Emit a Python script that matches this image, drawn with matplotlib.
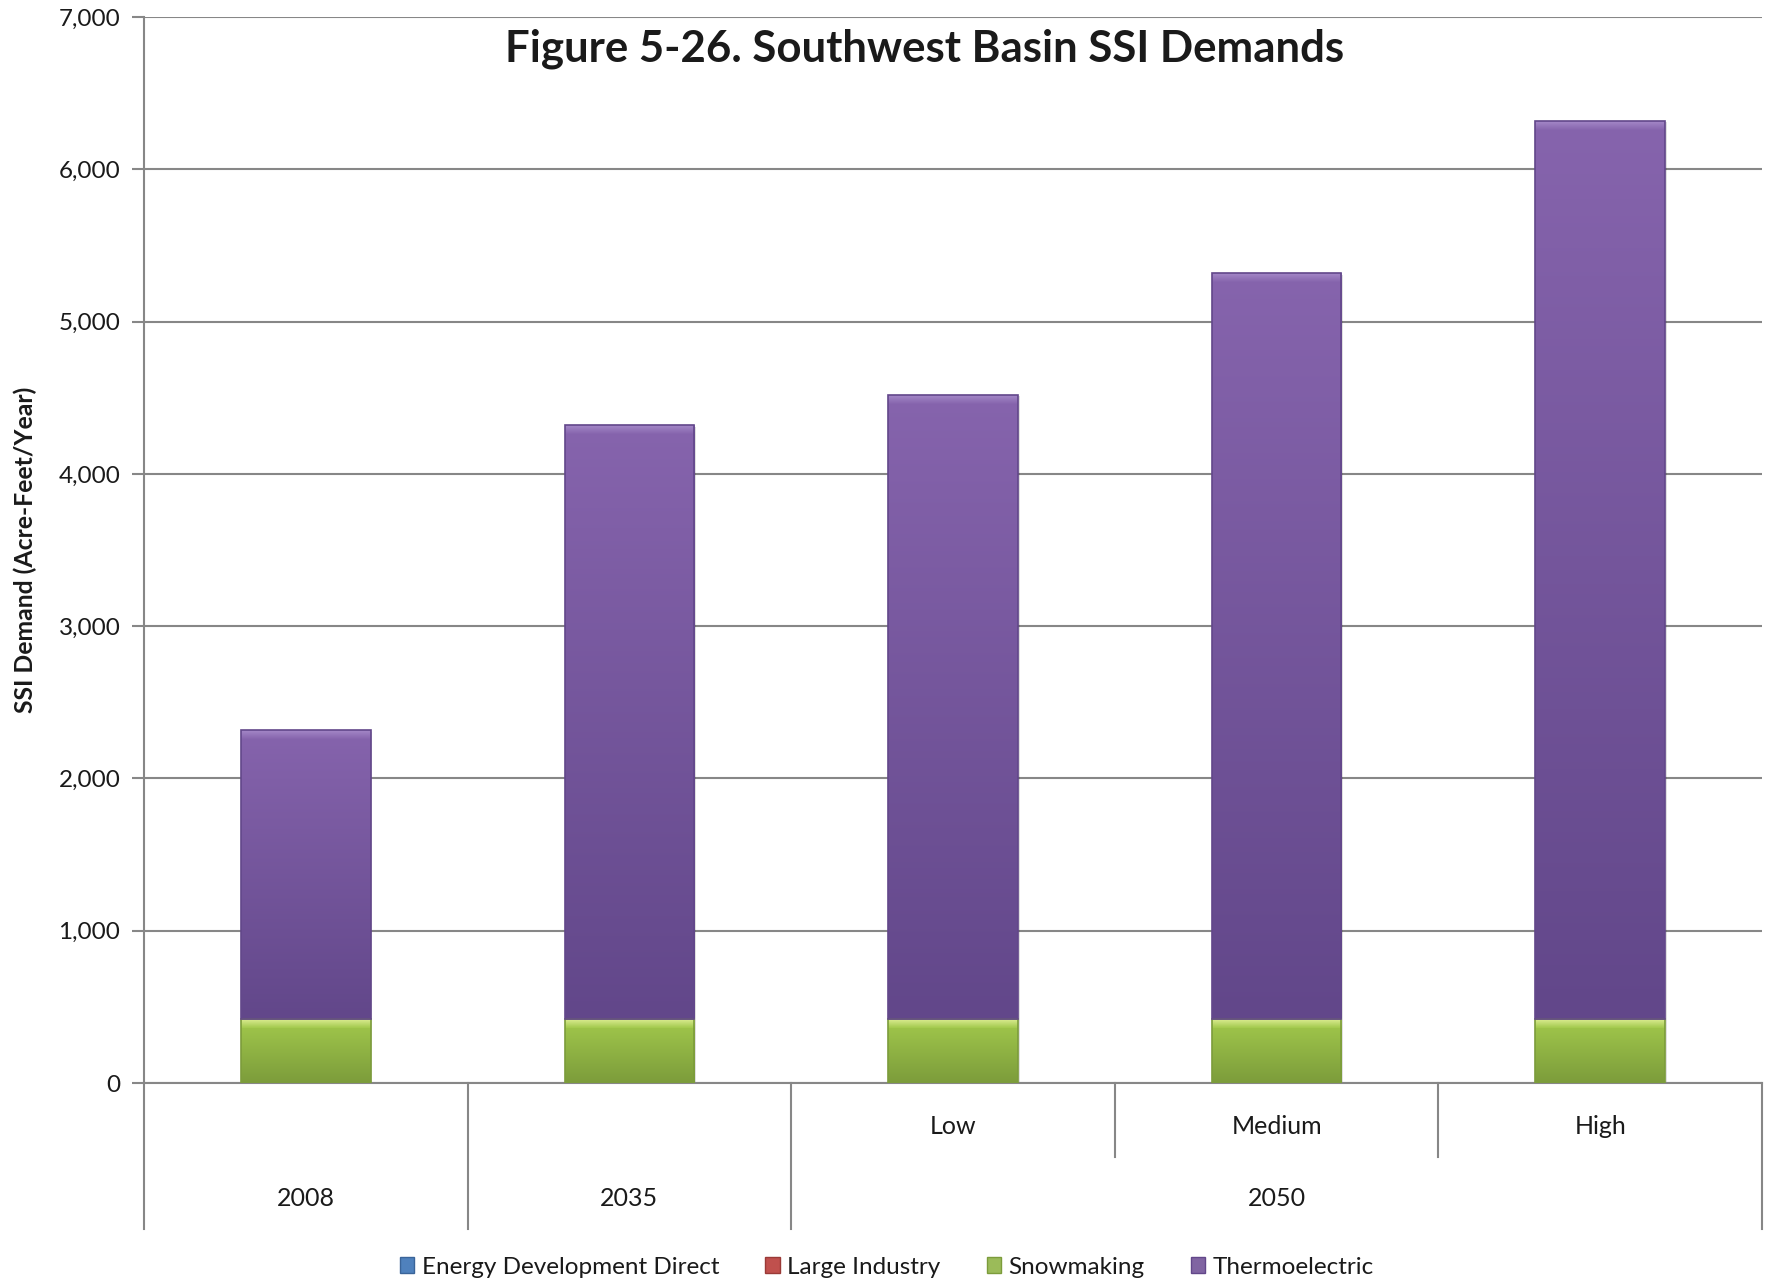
import numpy as np
import matplotlib
matplotlib.use('Agg')
import matplotlib.pyplot as plt
import matplotlib.transforms as mtransforms
from matplotlib.colors import LinearSegmentedColormap
from matplotlib.patches import Patch

plt.rcParams['font.family'] = ['Lato', 'DejaVu Sans']

# data (acre-feet/year)
years = ['2008', '2035', '2050', '2050', '2050']
scenarios = ['', '', 'Low', 'Medium', 'High']
energy_dev = [0, 0, 0, 0, 0]
large_industry = [0, 0, 0, 0, 0]
snowmaking = [420, 420, 420, 420, 420]
thermoelectric = [1900, 3900, 4100, 4900, 5900]

series_names = ['Energy Development Direct', 'Large Industry', 'Snowmaking', 'Thermoelectric']
series_data = [energy_dev, large_industry, snowmaking, thermoelectric]
# (legend colour, gradient top, gradient bottom, bevel highlight)
series_cols = [('#4F81BD', '#5B8FD0', '#3A6499', '#9CC0EA'),
               ('#C0504D', '#D05D5A', '#9A3A37', '#EBA09E'),
               ('#9BBB59', '#A2C94C', '#7C9C3B', '#E2F09A'),
               ('#8064A2', '#8664AD', '#62478A', '#A88DCB')]

fig = plt.figure(figsize=(17.88, 12.86), dpi=100)
ax = fig.add_axes([144/1788, 1 - 1083/1286, (1762-144)/1788, (1083-17)/1286])

x = np.arange(len(years))
grid_col = '#878787'
bevel = 60
txt_col = '#1a1a1a'

bottom = np.zeros(len(x))
for name, vals, cols in zip(series_names, series_data, series_cols):
    vals = np.array(vals, dtype=float)
    bars = ax.bar(x, vals, 0.4, bottom=bottom, color=cols[2], edgecolor='none', zorder=3)
    for rect, v in zip(bars, vals):
        if v <= 0:
            continue
        bx, by = rect.get_xy()
        bw, bh = rect.get_width(), rect.get_height()
        # soft shadow
        ax.add_patch(plt.Rectangle((bx + 0.006, by - 12), bw, bh, color='#000000',
                                   alpha=0.12, zorder=2, lw=0))
        cmap = LinearSegmentedColormap.from_list('g', [cols[2], cols[1]])
        grad = np.linspace(0, 1, 256).reshape(-1, 1)
        im = ax.imshow(grad, extent=[bx, bx + bw, by, by + bh], origin='lower',
                       cmap=cmap, aspect='auto', zorder=3, interpolation='bilinear')
        im.set_clip_path(rect)
        # top bevel
        cmap2 = LinearSegmentedColormap.from_list('b', [cols[1], cols[3]])
        im2 = ax.imshow(grad, extent=[bx, bx + bw, by + bh - bevel, by + bh], origin='lower',
                        cmap=cmap2, aspect='auto', zorder=3.1, interpolation='bilinear')
        im2.set_clip_path(rect)
        ax.add_patch(plt.Rectangle((bx, by), bw, bh, fill=False, edgecolor=cols[2],
                                   lw=1.2, zorder=3.2))
    bottom += vals

ax.set_xlim(-0.5, len(x) - 0.5)
ax.set_ylim(0, 7000)
ax.set_yticks(np.arange(0, 7001, 1000))
ax.set_yticklabels([f'{v:,}' for v in range(0, 7001, 1000)], fontsize=17.5, color=txt_col)
ax.yaxis.grid(True, color=grid_col, lw=1.5, zorder=0)
ax.set_axisbelow(True)
ax.tick_params(axis='y', length=9, width=1.5, color=grid_col, pad=8)
ax.tick_params(axis='x', length=0, labelbottom=False)
for s in ['top', 'right']:
    ax.spines[s].set_visible(False)
for s in ['left', 'bottom']:
    ax.spines[s].set_color(grid_col)
    ax.spines[s].set_linewidth(1.5)

ax.set_ylabel('SSI Demand (Acre-Feet/Year)', fontsize=17.8, fontweight='bold', color=txt_col)
ax.yaxis.set_label_coords(-0.066, 0.5)

# two-level category axis
trans = mtransforms.blended_transform_factory(ax.transData, ax.transAxes)
long_y = -(1229 - 1083) / 1066
short_y = -(1157 - 1083) / 1066
row1_y = -(1127 - 1083) / 1066
row2_y = -(1199 - 1083) / 1066
for i, xb in enumerate(np.arange(-0.5, len(x))):
    is_short = 0 < i < len(x) and years[i - 1] == years[i]
    ax.plot([xb, xb], [0, short_y if is_short else long_y], transform=trans,
            color=grid_col, lw=1.5, clip_on=False)
for i, sc in enumerate(scenarios):
    if sc:
        ax.text(x[i], row1_y, sc, transform=trans, ha='center', va='center', fontsize=18,
                color=txt_col)
groups = []
for i, yr in enumerate(years):
    if groups and groups[-1][0] == yr:
        groups[-1][1].append(x[i])
    else:
        groups.append((yr, [x[i]]))
for yr, xs in groups:
    ax.text(np.mean(xs), row2_y, yr, transform=trans, ha='center', va='center',
            fontsize=18, color=txt_col)

fig.text(925/1788, 1 - 49/1286, 'Figure 5-26. Southwest Basin SSI Demands',
         ha='center', va='center', fontsize=31.5, fontweight='bold', color=txt_col)

handles = [Patch(facecolor=c[0], edgecolor=c[2]) for c in series_cols]
fig.legend(handles, series_names, loc='center', bbox_to_anchor=(0.496, 1 - 1267/1286),
           ncol=4, frameon=False, fontsize=17.5, handlelength=0.6, handleheight=0.6,
           handletextpad=0.3, columnspacing=1.9, labelcolor=txt_col)

fig.savefig('out.png', dpi=100)
